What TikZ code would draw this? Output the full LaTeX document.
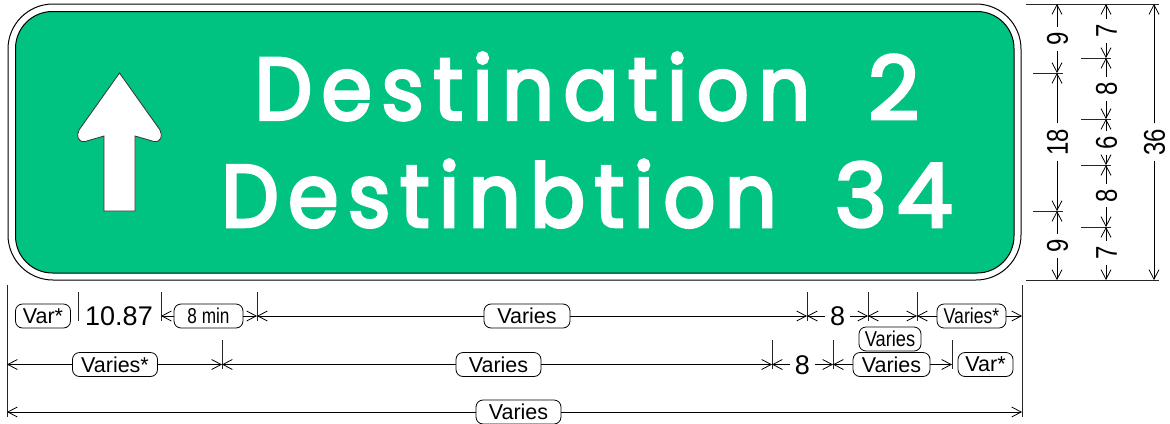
\documentclass[tikz,border=0pt]{standalone}
\usepackage{fontspec}
\usepackage{graphicx}
\usetikzlibrary{arrows.meta}
\setmainfont{Liberation Sans}
\newfontfamily\signfont[LetterSpace=11,FakeBold=3.5,FakeStretch=0.92,WordSpace=1.85]{Poppins}
\newfontfamily\signdigits[LetterSpace=11,FakeBold=3.5,FakeStretch=1.01]{Poppins}
\definecolor{signgreen}{RGB}{0,194,129}
\tikzset{
  x=1bp,y=-1bp,
  dimline/.style={line width=0.8bp,black},
  dimtip/.style={dimline,-{Straight Barb[length=9.5bp,width=10bp,line width=0.8bp]}},
  dimboth/.style={dimline,{Straight Barb[length=9.5bp,width=10bp,line width=0.8bp]}-{Straight Barb[length=9.5bp,width=10bp,line width=0.8bp]}},
  tick/.style={line width=0.8bp,black!85},
  tagbox/.style={draw,line width=0.8bp,rounded corners=7bp,fill=white,inner sep=0pt,minimum height=24bp,font=\fontsize{21.5bp}{24bp}\selectfont},
  numlabel/.style={inner ysep=0pt,inner xsep=5bp,text height=19.5bp,text depth=0pt,font=\fontsize{27bp}{28bp}\selectfont},
  sidelabel/.style={rotate=90,inner ysep=0pt,inner xsep=5bp,text height=21.5bp,text depth=0pt,font=\fontsize{30bp}{30bp}\selectfont},
  signtext/.style={text=white,inner sep=0pt,anchor=base,font=\signfont\fontsize{88bp}{100bp}\selectfont},
}
\newcommand{\narrowdigits}[1]{\scalebox{0.8}[1]{#1}}
\newcommand{\signnum}[1]{{\signdigits\fontsize{88bp}{100bp}\selectfont #1}}
\begin{document}
\begin{tikzpicture}
\useasboundingbox (0,0) rectangle (1170,423);
% sign
\draw[line width=1bp,fill=white,rounded corners=45bp] (8,4) rectangle (1021,280);
\draw[line width=1bp,fill=signgreen,rounded corners=37bp] (15.5,11.5) rectangle (1014,273);
\draw[line width=0.8bp,fill=white,draw=black!80]
  (119.5,73) -- (79,130) .. controls (76,136) and (78,142.5) .. (85,141.5) -- (104,136) -- (104,211) -- (135,211) -- (135,136) -- (154,141.5) .. controls (161,142.5) and (163,136) .. (160,130) -- cycle;
\node[signtext] (d2) at (587,119.5) {Destination \signnum{2}};
\node[signtext] (d34) at (587,226.7) {Destinbtion \signnum{34}};
% extension lines
\coordinate (L1) at (7,316); \coordinate (L2) at (7,364.5); \coordinate (L3) at (7,412);
\coordinate (R1) at (1022,316); \coordinate (R2) at (1022,364.5); \coordinate (R3) at (1022,412);
\draw[tick] (7,285) -- (7,417);
\draw[tick] (1022,285) -- (1022,417);
% row 1
\foreach \n/\x in {a/78,b/161,c/257,d/807,e/868,f/917}{
  \coordinate (t\n) at (\x,316);
  \draw[tick] (\x,292) -- (\x,321);
}
\node[tagbox,minimum width=55bp] (var1) at (43,316) {Var*};
\node[numlabel] (n1087) at (119,316) {10.87};
\node[tagbox,minimum width=69bp] (min8) at (208.5,316) {\scalebox{0.8}[1]{8 min}};
\node[tagbox,minimum width=86bp] (var2) at (527,316) {Varies};
\node[numlabel] (n8a) at (837.5,316) {8};
\node[tagbox,minimum width=69bp] (var3) at (971.5,316) {\scalebox{0.82}[1]{Varies*}};
\draw[dimtip] (min8) -- (tb);
\draw[dimtip] (min8) -- (tc);
\draw[dimtip] (var2) -- (tc);
\draw[dimtip] (var2) -- (td);
\draw[dimtip] (n8a) -- (td);
\draw[dimtip] (n8a) -- (te);
\draw[dimboth] (te) -- (tf);
\draw[dimtip] (var3) -- (tf);
\draw[dimtip] (var3) -- (R1);
\node[tagbox,minimum width=62bp] (var4) at (890,339) {\scalebox{0.85}[1]{Varies}};
% row 2
\foreach \n/\x in {g/222,h/772,i/833,j/952}{
  \coordinate (t\n) at (\x,364.5);
  \draw[tick] (\x,340) -- (\x,369);
}
\node[tagbox,minimum width=85bp] (var5) at (115,364.5) {Varies*};
\node[tagbox,minimum width=85bp] (var6) at (498.5,364.5) {Varies};
\node[numlabel] (n8b) at (802.5,364.5) {8};
\node[tagbox,minimum width=77bp] (var7) at (891.5,364.5) {Varies};
\node[tagbox,minimum width=55bp] (var8) at (985.5,364.5) {Var*};
\draw[dimtip] (var5) -- (L2);
\draw[dimtip] (var5) -- (tg);
\draw[dimtip] (var6) -- (tg);
\draw[dimtip] (var6) -- (th);
\draw[dimtip] (n8b) -- (th);
\draw[dimtip] (n8b) -- (ti);
\draw[dimtip] (var7) -- (ti);
\draw[dimtip] (var7) -- (tj);
% row 3
\node[tagbox,minimum width=85bp] (var9) at (518.5,412) {Varies};
\draw[dimtip] (var9) -- (L3);
\draw[dimtip] (var9) -- (R3);
% vertical dimensions
\draw[tick] (1026,4) -- (1159,4);
\draw[tick] (1026,280) -- (1159,280);
\foreach \n/\y in {a/73,b/211}{
  \coordinate (u\n) at (1057,\y);
  \draw[tick] (1033,\y) -- (1063,\y);
}
\foreach \n/\y in {c/58,d/119,e/165,f/227}{
  \coordinate (u\n) at (1106,\y);
  \draw[tick] (1081,\y) -- (1111,\y);
}
\coordinate (Atop) at (1057,4); \coordinate (Abot) at (1057,280);
\coordinate (Btop) at (1106,4); \coordinate (Bbot) at (1106,280);
\coordinate (Ctop) at (1154,4); \coordinate (Cbot) at (1154,280);
\node[sidelabel] (a9t) at (1057,39) {\narrowdigits{9}};
\node[sidelabel] (a18) at (1057,142) {\narrowdigits{18}};
\node[sidelabel] (a9b) at (1057,246) {\narrowdigits{9}};
\node[sidelabel] (b7t) at (1106,31) {\narrowdigits{7}};
\node[sidelabel] (b8t) at (1106,89) {\narrowdigits{8}};
\node[sidelabel] (b6) at (1106,143) {\narrowdigits{6}};
\node[sidelabel] (b8b) at (1106,195.5) {\narrowdigits{8}};
\node[sidelabel] (b7b) at (1106,253) {\narrowdigits{7}};
\node[sidelabel] (c36) at (1154,142) {\narrowdigits{36}};
\draw[dimtip] (a9t) -- (Atop);
\draw[dimtip] (a9t) -- (ua);
\draw[dimtip] (a18) -- (ua);
\draw[dimtip] (a18) -- (ub);
\draw[dimtip] (a9b) -- (ub);
\draw[dimtip] (a9b) -- (Abot);
\draw[dimtip] (b7t) -- (Btop);
\draw[dimtip] (b7t) -- (uc);
\draw[dimtip] (b8t) -- (uc);
\draw[dimtip] (b8t) -- (ud);
\draw[dimtip] (b6) -- (ud);
\draw[dimtip] (b6) -- (ue);
\draw[dimtip] (b8b) -- (ue);
\draw[dimtip] (b8b) -- (uf);
\draw[dimtip] (b7b) -- (uf);
\draw[dimtip] (b7b) -- (Bbot);
\draw[dimtip] (c36) -- (Ctop);
\draw[dimtip] (c36) -- (Cbot);
\end{tikzpicture}
\end{document}
